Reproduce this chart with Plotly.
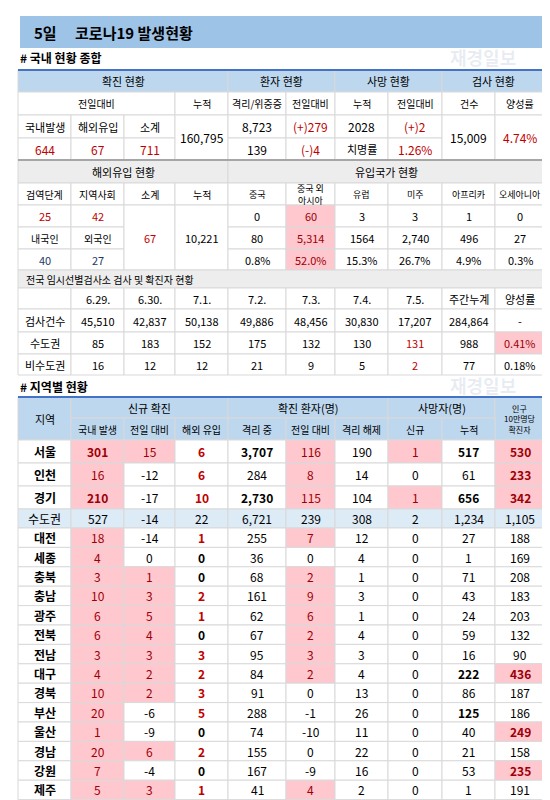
import plotly.graph_objects as go

# ---- data ----
dom_labels = ["국내발생", "해외유입", "소계"]
dom_values = ["644", "67", "711"]
total_cum = "160,795"
isolated = ["8,723", "139"]
isolated_chg = ["(+)279", "(-)4"]
deaths = ["2028", "치명률"]
deaths_chg = ["(+)2", "1.26%"]
tests = "15,009"
pos_rate = "4.74%"

imp_top = ["25", "42"]
imp_mid = ["내국인", "외국인"]
imp_bot = ["40", "27"]
imp_sum = "67"
imp_cum = "10,221"
countries = ["중국", "중국 외<br>아시아", "유럽", "미주", "아프리카", "오세아니아"]
country_today = ["0", "60", "3", "3", "1", "0"]
country_cum = ["80", "5,314", "1564", "2,740", "496", "27"]
country_pct = ["0.8%", "52.0%", "15.3%", "26.7%", "4.9%", "0.3%"]

dates = ["6.29.", "6.30.", "7.1.", "7.2.", "7.3.", "7.4.", "7.5.", "주간누계", "양성률"]
tests_row = ["45,510", "42,837", "50,138", "49,886", "48,456", "30,830", "17,207", "284,864", "-"]
capital_row = ["85", "183", "152", "175", "132", "130", "131", "988", "0.41%"]
noncap_row = ["16", "12", "12", "21", "9", "5", "2", "77", "0.18%"]

regions = ["서울", "인천", "경기", "수도권", "대전", "세종", "충북", "충남", "광주", "전북",
           "전남", "대구", "경북", "부산", "울산", "경남", "강원", "제주"]
new_dom = [301, 16, 210, 527, 18, 4, 3, 10, 6, 6, 3, 4, 10, 20, 1, 20, 7, 5]
new_chg = [15, -12, -17, -14, -14, 0, 1, 3, 5, 4, 3, 2, 2, -6, -9, 6, -4, 3]
new_imp = [6, 6, 10, 22, 1, 0, 0, 2, 1, 0, 3, 2, 3, 5, 0, 2, 0, 1]
iso_now = [3707, 284, 2730, 6721, 255, 36, 68, 161, 62, 67, 95, 84, 91, 288, 74, 155, 167, 41]
iso_chg = [116, 8, 115, 239, 7, 0, 2, 9, 6, 2, 3, 2, 0, -1, -10, 0, -9, 4]
released = [190, 14, 104, 308, 12, 4, 1, 3, 1, 4, 3, 4, 13, 26, 11, 22, 16, 2]
death_new = [1, 0, 1, 2, 0, 0, 0, 0, 0, 0, 0, 0, 0, 0, 0, 0, 0, 0]
death_cum = [517, 61, 656, 1234, 27, 1, 71, 43, 24, 59, 16, 222, 86, 125, 40, 21, 53, 1]
per_100k = [530, 233, 342, 1105, 188, 169, 208, 183, 203, 132, 90, 436, 187, 186, 249, 158, 235, 191]

# ---- layout helpers ----
X = [10, 63, 116, 167, 220, 278, 327, 380, 434, 487, 537]
FONT = "Noto Sans CJK KR"
BLUE_H = "#BDD7EE"
LIGHT_B = "#DDEBF7"
GREY_H = "#EDEDED"
PINK = "#FFC7CE"
RED = "#C00000"
PINK_T = "#9C0006"
NAVY = "#1F3864"
GRID = "#D9D9D9"

fig = go.Figure()
shapes, annos = [], []


def cell(c0, c1, y0, y1, text="", fill="white", color="black", bold=False, size=11, align="center"):
    shapes.append(dict(type="rect", x0=X[c0], x1=X[c1], y0=y0, y1=y1, fillcolor=fill,
                       line=dict(color=GRID, width=1), layer="below"))
    if text != "":
        t = f"<b>{text}</b>" if bold else text
        xpos = (X[c0] + X[c1]) / 2 if align == "center" else X[c0] + 6
        annos.append(dict(x=xpos, y=(y0 + y1) / 2, text=t, showarrow=False,
                          xanchor=align if align != "center" else "center",
                          font=dict(family=FONT, size=size, color=color)))


def label(x, y, text, size=12):
    annos.append(dict(x=x, y=y, text=f"<b>{text}</b>", showarrow=False, xanchor="left",
                      font=dict(family=FONT, size=size, color="black")))


def fmt(v):
    return f"{v:,}"


# watermark (drawn first, faint, in the empty space right of the section labels)
for wy in [49, 377]:
    annos.append(dict(x=475, y=wy, text="<b>재경일보</b>", showarrow=False,
                      font=dict(family=FONT, size=18, color="rgba(150,170,200,0.22)")))

# title
shapes.append(dict(type="rect", x0=12, x1=537, y0=8, y1=40, fillcolor="#9DC3E6", line=dict(width=0)))
label(24, 24, "5일　 코로나19 발생현황", 15)
label(10, 49, "# 국내 현황 종합", 12)

# section 1
R = [62, 84, 107, 130, 152]
cell(0, 4, R[0], R[1], "확진 현황", BLUE_H)
cell(4, 6, R[0], R[1], "환자 현황", BLUE_H)
cell(6, 8, R[0], R[1], "사망 현황", BLUE_H)
cell(8, 10, R[0], R[1], "검사 현황", BLUE_H)
for c0, c1, t in [(0, 3, "전일대비"), (3, 4, "누적"), (4, 5, "격리/위중증"), (5, 6, "전일대비"),
                  (6, 7, "누적"), (7, 8, "전일대비"), (8, 9, "건수"), (9, 10, "양성률")]:
    cell(c0, c1, R[1], R[2], t, size=10)
for i in range(3):
    cell(i, i + 1, R[2], R[3], dom_labels[i])
    cell(i, i + 1, R[3], R[4], dom_values[i], color=RED, size=12)
cell(3, 4, R[2], R[4], total_cum, size=12)
for j in range(2):
    cell(4, 5, R[2 + j], R[3 + j], isolated[j], size=12)
    cell(5, 6, R[2 + j], R[3 + j], isolated_chg[j], color=RED, size=12)
    cell(6, 7, R[2 + j], R[3 + j], deaths[j], size=12 if j == 0 else 11)
    cell(7, 8, R[2 + j], R[3 + j], deaths_chg[j], color=RED, size=12)
cell(8, 9, R[2], R[4], tests, size=12)
cell(9, 10, R[2], R[4], pos_rate, color=RED, size=12)
shapes.append(dict(type="line", x0=10, x1=537, y0=62, y1=62, line=dict(color="#4472C4", width=2)))
shapes.append(dict(type="line", x0=10, x1=537, y0=152, y1=152, line=dict(color="#A6A6A6", width=2)))

# section 2
R = [152, 175, 197, 219, 241, 262]
cell(0, 4, R[0], R[1], "해외유입 현황", GREY_H)
cell(4, 10, R[0], R[1], "유입국가 현황", GREY_H)
for i, t in enumerate(["검역단계", "지역사회", "소계", "누적"]):
    cell(i, i + 1, R[1], R[2], t, size=10)
for i, t in enumerate(countries):
    cell(4 + i, 5 + i, R[1], R[2], t, size=9)
for i in range(2):
    cell(i, i + 1, R[2], R[3], imp_top[i], color=RED)
    cell(i, i + 1, R[3], R[4], imp_mid[i], size=10)
    cell(i, i + 1, R[4], R[5], imp_bot[i], color=NAVY)
cell(2, 3, R[2], R[5], imp_sum, color=RED)
cell(3, 4, R[2], R[5], imp_cum)
for i in range(6):
    fill = PINK if i == 1 else "white"
    col = PINK_T if i == 1 else "black"
    cell(4 + i, 5 + i, R[2], R[3], country_today[i], fill, col)
    cell(4 + i, 5 + i, R[3], R[4], country_cum[i], fill, col)
    cell(4 + i, 5 + i, R[4], R[5], country_pct[i], fill, col)

# section 3
R = [262, 280, 301, 324, 346, 367]
cell(0, 10, R[0], R[1], "전국 임시선별검사소 검사 및 확진자 현황", GREY_H, size=10, align="left")
cell(0, 1, R[1], R[2])
for i, t in enumerate(dates):
    cell(1 + i, 2 + i, R[1], R[2], t)
for r, (name, row) in enumerate([("검사건수", tests_row), ("수도권", capital_row), ("비수도권", noncap_row)]):
    cell(0, 1, R[2 + r], R[3 + r], name)
    for i, v in enumerate(row):
        fill, col = "white", "black"
        if i == 6 and r > 0:
            col = RED
        if i == 8 and r == 1:
            fill, col = PINK, PINK_T
        cell(1 + i, 2 + i, R[2 + r], R[3 + r], v, fill, col)

# section 4
label(10, 378, "# 지역별 현황", 12)
H = [389, 410, 432]
cell(0, 1, H[0], H[2], "지역", BLUE_H)
cell(1, 4, H[0], H[1], "신규 확진", BLUE_H)
cell(4, 7, H[0], H[1], "확진 환자(명)", BLUE_H)
cell(7, 9, H[0], H[1], "사망자(명)", BLUE_H)
cell(9, 10, H[0], H[2], "인구<br>10만명당<br>확진자", BLUE_H, size=8)
for i, t in enumerate(["국내 발생", "전일 대비", "해외 유입", "격리 중", "전일 대비", "격리 해제", "신규", "누적"]):
    cell(1 + i, 2 + i, H[1], H[2], t, BLUE_H, size=10)
shapes.append(dict(type="line", x0=10, x1=537, y0=389, y1=389, line=dict(color="#4472C4", width=2)))

y = 432
for k, reg in enumerate(regions):
    h = 23 if k < 3 else (19 if k == 3 else 19.4)
    y0, y1 = y, y + h
    y = y1
    if reg == "수도권":
        vals = [new_dom[k], new_chg[k], new_imp[k], iso_now[k], iso_chg[k], released[k],
                death_new[k], death_cum[k], per_100k[k]]
        cell(0, 1, y0, y1, reg, LIGHT_B, size=12)
        for i, v in enumerate(vals):
            cell(1 + i, 2 + i, y0, y1, fmt(v), LIGHT_B, size=12)
        continue
    sz = 12
    cell(0, 1, y0, y1, reg, bold=True, size=sz)
    p = new_dom[k] > 0
    cell(1, 2, y0, y1, fmt(new_dom[k]), PINK if p else "white", PINK_T if p else "black",
         bold=new_dom[k] > 100, size=sz)
    p = new_chg[k] > 0
    cell(2, 3, y0, y1, fmt(new_chg[k]), PINK if p else "white", PINK_T if p else "black", size=sz)
    cell(3, 4, y0, y1, fmt(new_imp[k]), color=RED if new_imp[k] > 0 else "black", bold=True, size=sz)
    cell(4, 5, y0, y1, fmt(iso_now[k]), bold=iso_now[k] > 1000, size=sz)
    p = iso_chg[k] > 0
    cell(5, 6, y0, y1, fmt(iso_chg[k]), PINK if p else "white", PINK_T if p else "black", size=sz)
    cell(6, 7, y0, y1, fmt(released[k]), size=sz)
    p = death_new[k] > 0
    cell(7, 8, y0, y1, fmt(death_new[k]), PINK if p else "white", PINK_T if p else "black", size=sz)
    cell(8, 9, y0, y1, fmt(death_cum[k]), bold=death_cum[k] > 100, size=sz)
    p = per_100k[k] > 230
    cell(9, 10, y0, y1, fmt(per_100k[k]), PINK if p else "white", PINK_T if p else "black",
         bold=p, size=sz)

fig.update_layout(
    width=550, height=800, margin=dict(l=0, r=0, t=0, b=0),
    paper_bgcolor="white", plot_bgcolor="white",
    xaxis=dict(range=[0, 550], visible=False, fixedrange=True),
    yaxis=dict(range=[800, 0], visible=False, fixedrange=True),
    shapes=shapes, annotations=annos, showlegend=False,
)
fig.write_html("out.html")
